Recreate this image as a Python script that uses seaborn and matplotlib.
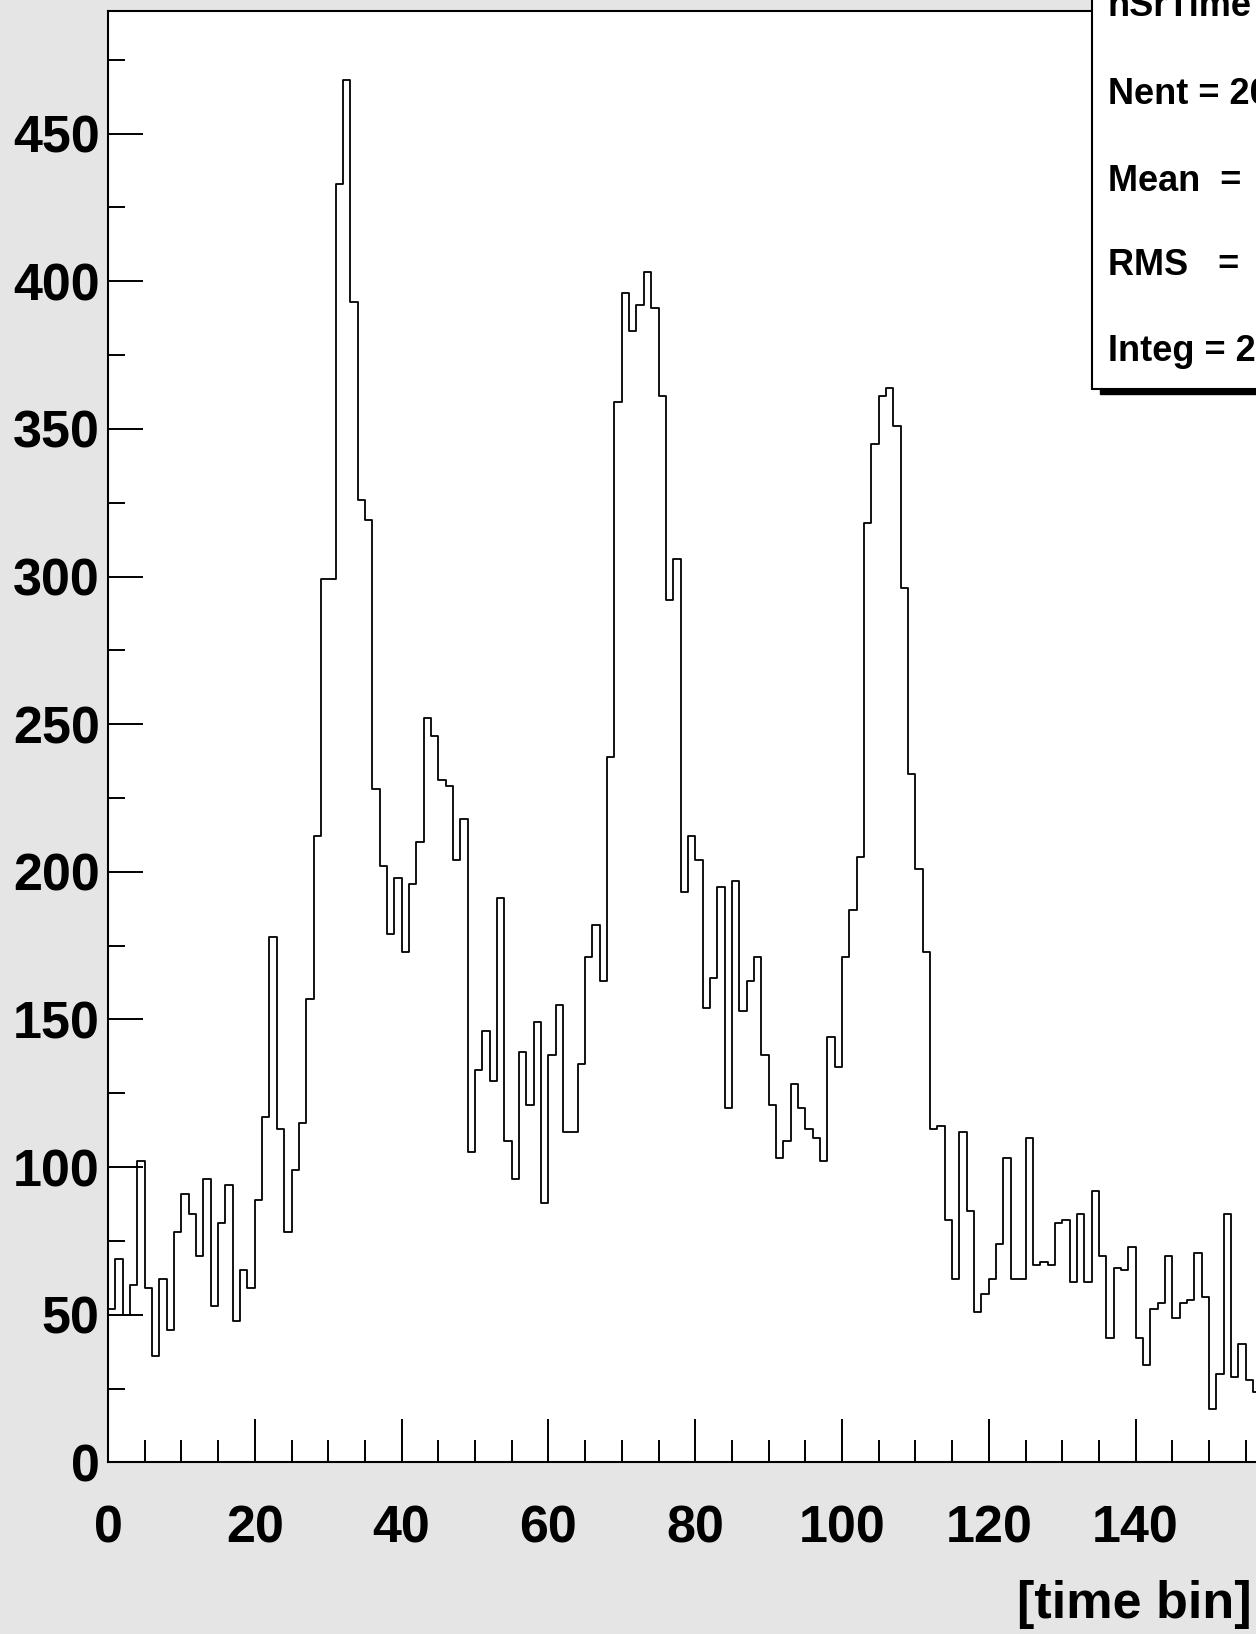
import numpy as np
import pandas as pd
import matplotlib
matplotlib.use('Agg')
import matplotlib.pyplot as plt
import seaborn as sns
from matplotlib.patches import Rectangle
from matplotlib.ticker import MultipleLocator

# contenu des bins, bins de largeur 1 a partir de 0
counts = [52, 69, 50, 60, 102, 59, 36, 62, 45, 78,
          91, 84, 70, 96, 53, 81, 94, 48, 65, 59,
          89, 117, 178, 113, 78, 99, 115, 157, 212, 299,
          299, 433, 468, 393, 326, 319, 228, 202, 179, 198,
          173, 196, 210, 252, 246, 231, 229, 204, 218, 105,
          133, 146, 129, 191, 109, 96, 139, 121, 149, 88,
          138, 155, 112, 112, 135, 171, 182, 163, 239, 359,
          396, 383, 392, 403, 391, 361, 292, 306, 193, 212,
          204, 154, 164, 195, 120, 197, 153, 163, 171, 138,
          121, 103, 109, 128, 120, 113, 110, 102, 144, 134,
          171, 187, 205, 318, 345, 361, 364, 351, 296, 233,
          201, 173, 113, 114, 82, 62, 112, 85, 51, 57,
          62, 74, 103, 62, 62, 110, 67, 68, 67, 81,
          82, 61, 84, 61, 92, 70, 42, 66, 65, 73,
          42, 33, 52, 54, 70, 49, 54, 55, 71, 56,
          18, 30, 84, 29, 40, 28, 24]
x_major = 20
x_minor = 5
y_major = 50
y_minor = 25
x_title = '[time bin]'
hist_name = 'hSrTime'
nent_text = 'Nent = 20'

df = pd.DataFrame({'bin': np.arange(len(counts)) + 0.5, 'n': counts})

w = np.array(counts, dtype=float)
c = df['bin'].values
integ = w.sum()
mean = (w * c).sum() / integ
rms = np.sqrt((w * (c - mean) ** 2).sum() / integ)

sns.set_style('ticks')
plt.rcParams['font.family'] = ['Liberation Sans', 'DejaVu Sans']
plt.rcParams['font.weight'] = 'bold'
for k in ['text.color', 'axes.labelcolor', 'xtick.color', 'ytick.color',
          'axes.edgecolor']:
    plt.rcParams[k] = 'black'

W, H = 1256, 1634
fig = plt.figure(figsize=(W / 100, H / 100), dpi=100, facecolor='#e5e5e5')

px_x = 7.34   # pixels par bin
px_y = 2.953  # pixels par coup
y0 = 1462.4
ytop = 11
xmax = 157.5  # l'image est coupee a droite
ax = fig.add_axes([108 / W, 1 - y0 / H, xmax * px_x / W, (y0 - ytop) / H])
ax.set_facecolor('white')

sns.histplot(data=df, x='bin', weights='n', binwidth=1,
             binrange=(0, len(counts)), element='step',
             fill=False, color='black', linewidth=1.3, ax=ax)

ax.set_xlim(0, xmax)
ax.set_ylim(0, (y0 - ytop) / px_y)
ax.set_xlabel('')
ax.set_ylabel('')

ax.xaxis.set_major_locator(MultipleLocator(x_major))
ax.xaxis.set_minor_locator(MultipleLocator(x_minor))
ax.yaxis.set_major_locator(MultipleLocator(y_major))
ax.yaxis.set_minor_locator(MultipleLocator(y_minor))

ax.tick_params(axis='x', which='major', direction='in', length=31, width=1.4,
               labelsize=37.5, pad=30, colors='black')
ax.tick_params(axis='x', which='minor', direction='in', length=16, width=1.4,
               colors='black')
ax.tick_params(axis='y', which='major', direction='in', length=25, width=1.4,
               labelsize=37.5, pad=6, colors='black')
ax.tick_params(axis='y', which='minor', direction='in', length=12, width=1.4,
               colors='black')
for lab in ax.get_xticklabels() + ax.get_yticklabels():
    lab.set_fontweight('bold')

for s in ax.spines.values():
    s.set_visible(True)
    s.set_linewidth(1.5)
    s.set_color('black')

fig.text(1252 / W, 1 - 1618 / H, x_title, ha='right', va='baseline',
         fontsize=37.5, fontweight='bold', color='black')

# boite de statistiques (style ROOT), coupee par le bord droit
fig.patches.append(Rectangle((1100 / W, 1 - 394 / H), 300 / W, 500 / H,
                             transform=fig.transFigure, facecolor='black',
                             edgecolor='black', zorder=5))
fig.patches.append(Rectangle((1092 / W, 1 - 389 / H), 300 / W, 500 / H,
                             transform=fig.transFigure, facecolor='white',
                             edgecolor='black', linewidth=1.5, zorder=6))

stat_lines = [hist_name, nent_text, f'Mean  =   {mean:.2f}',
              f'RMS   =   {rms:.2f}', f'Integ = {integ:.3g}']
baselines = [16, 104, 191, 275, 361]
for txt, yb in zip(stat_lines, baselines):
    fig.text(1108 / W, 1 - yb / H, txt, ha='left', va='baseline',
             fontsize=26, fontweight='bold', color='black', zorder=7)

fig.savefig('out.png', dpi=100, facecolor=fig.get_facecolor())
